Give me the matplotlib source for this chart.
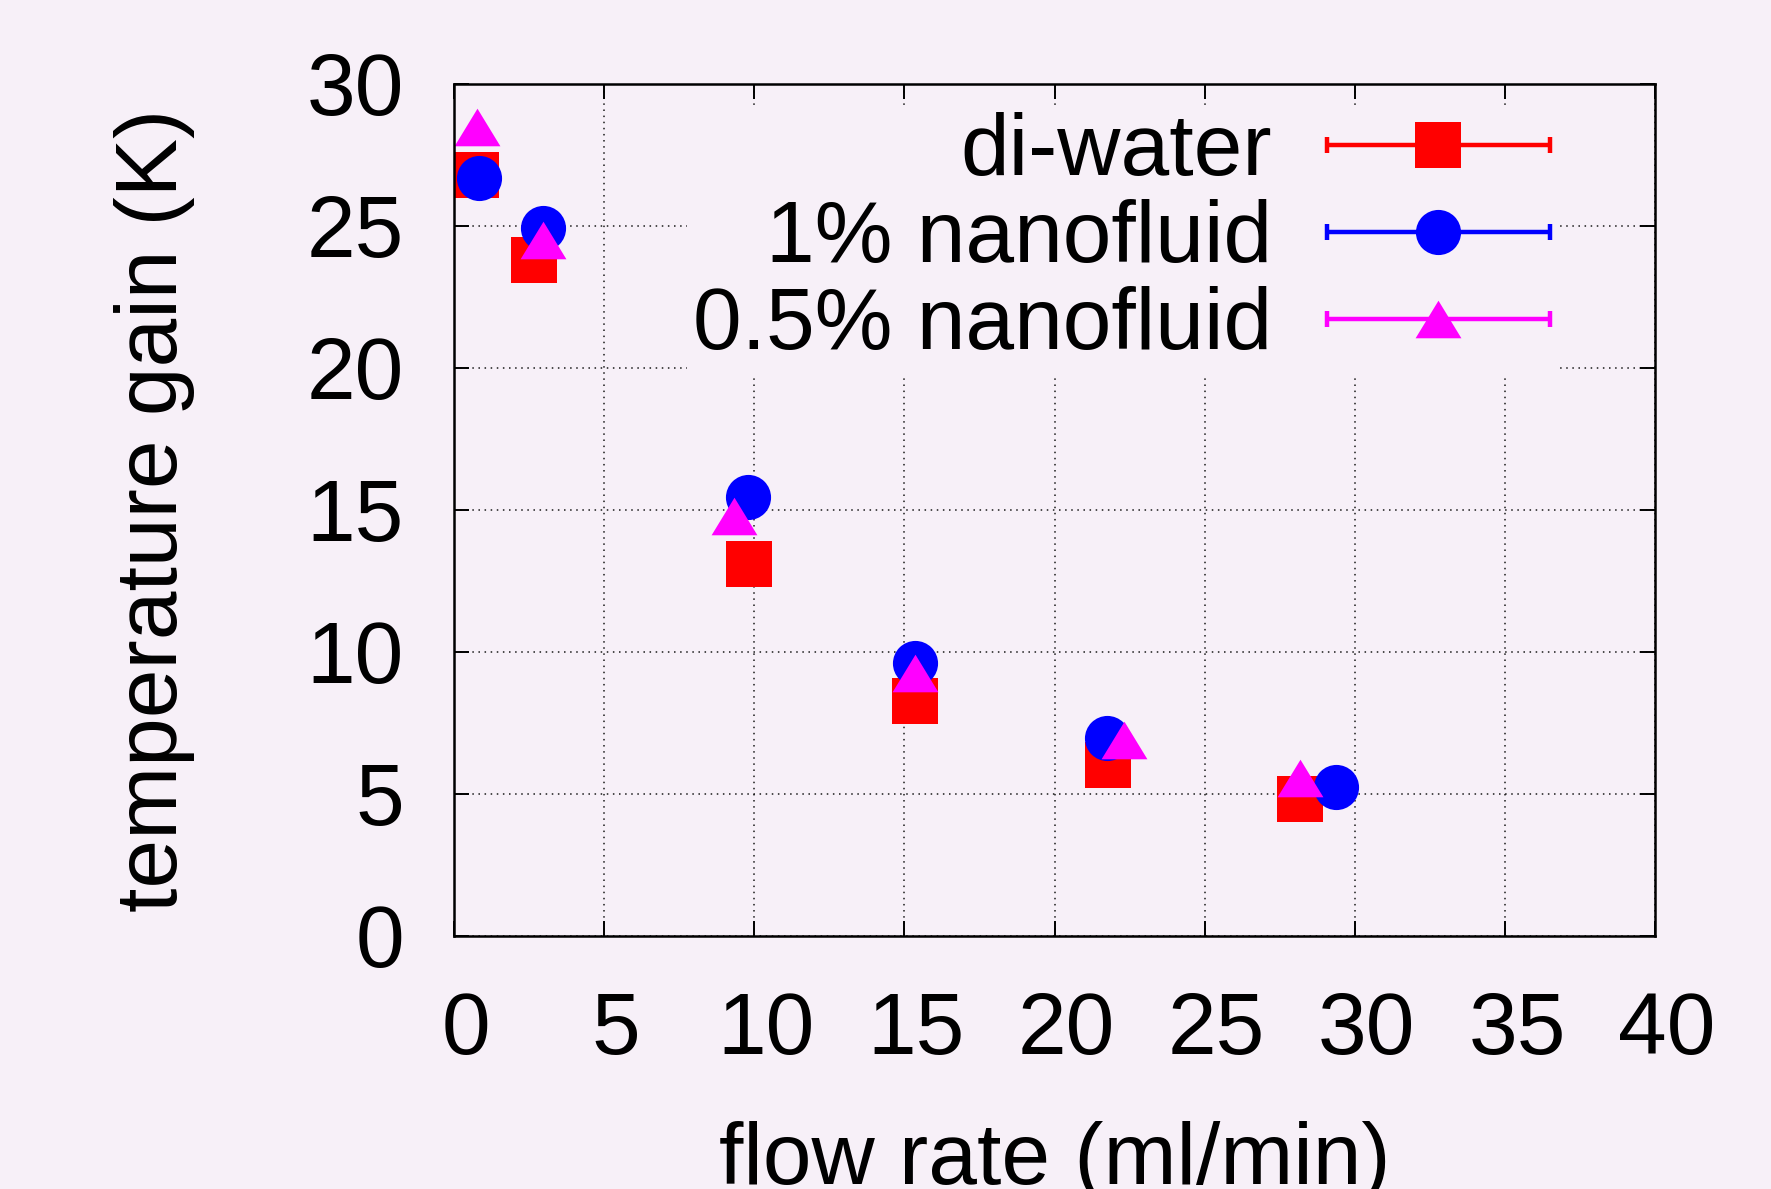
import matplotlib
matplotlib.use("Agg")
import matplotlib.pyplot as plt
from matplotlib.container import ErrorbarContainer
from matplotlib.legend_handler import HandlerErrorbar
from matplotlib.transforms import ScaledTranslation

# ---- data ----
labels = ["di-water", "1% nanofluid", "0.5% nanofluid"]
x_water = [0.73, 2.66, 9.81, 15.34, 21.77, 28.16]
y_water = [26.8, 23.8, 13.1, 8.29, 6.03, 4.81]
x_np1 = [0.82, 2.97, 9.80, 15.35, 21.76, 29.39]
y_np1 = [26.7, 24.94, 15.45, 9.63, 6.96, 5.26]
x_np05 = [0.75, 2.97, 9.33, 15.35, 22.30, 28.17]
y_np05 = [28.5, 24.5, 14.8, 9.25, 6.89, 5.58]
xticks = [0, 5, 10, 15, 20, 25, 30, 35, 40]
yticks = [0, 5, 10, 15, 20, 25, 30]
xlabel = "flow rate (ml/min)"
ylabel = "temperature gain (K)"

BG = "#f7f0f8"
FS = 63
plt.rcParams["font.family"] = ["Liberation Sans", "DejaVu Sans"]

W, H = 1771, 1189
fig = plt.figure(figsize=(W / 100, H / 100), dpi=100, facecolor=BG)
ax = fig.add_axes([454 / W, 1 - 936 / H, 1201 / W, 852 / H], facecolor=BG)

tri = [(0, 0.82), (-1, -0.82), (1, -0.82), (0, 0.82)]
series = [
    (x_water, y_water, "#ff0000", "s", 33),
    (x_np1, y_np1, "#0000ff", "o", 32.5),
    (x_np05, y_np05, "#ff00ff", tri, 33),
]
handles = []
for (xs, ys, col, mk, ms), lab in zip(series, labels):
    h = ax.errorbar(xs, ys, xerr=[0] * len(xs), marker=mk,
                    linestyle="none", color=col, ecolor=col, markersize=ms,
                    elinewidth=3.2, capsize=5.6, capthick=3.2,
                    label=lab)
    h[0].set_markeredgewidth(0)
    handles.append(h)

ax.set_xlim(0, 40)
ax.set_ylim(0, 30)
ax.set_xticks(xticks)
ax.set_yticks(yticks)
ax.tick_params(axis="both", which="major", direction="in", length=10.8, width=1.4,
               top=True, right=True, labelsize=FS, colors="black")
ax.tick_params(axis="x", pad=39.5)
ax.tick_params(axis="y", pad=36)
for lbl in ax.get_xticklabels():
    lbl.set_transform(lbl.get_transform() + ScaledTranslation(12 / 100, 0, fig.dpi_scale_trans))
for s in ax.spines.values():
    s.set_linewidth(1.8)
ax.grid(True, linestyle=(0, (1, 3)), linewidth=1.1, color="0.1")
ax.set_axisbelow(True)

ax.set_xlabel(xlabel, fontsize=FS)
ax.set_ylabel(ylabel, fontsize=FS)
ax.xaxis.set_label_coords(0.5, (936 - 1121) / 852)
ax.yaxis.set_label_coords((195 - 454) / 1201, 0.5)

hl = 2.55
leg = ax.legend(handles=handles, loc="upper right",
                bbox_to_anchor=((1556 - 454) / 1201, 1 - (106 - 84) / 852),
                borderaxespad=0,
                borderpad=0.07, markerfirst=False, numpoints=1, handlelength=hl,
                handletextpad=0.62, labelspacing=0.07, fontsize=FS,
                frameon=True, fancybox=False, framealpha=1,
                facecolor=BG, edgecolor="none",
                handler_map={ErrorbarContainer: HandlerErrorbar(xerr_size=hl / 2)})

fig.savefig("out.png", dpi=100, facecolor=BG)
